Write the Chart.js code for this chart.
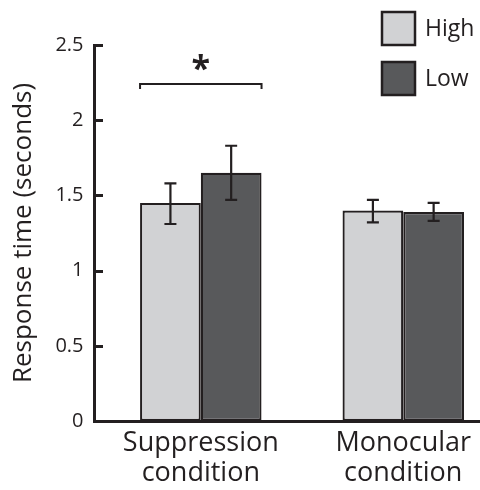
<!DOCTYPE html>
<html>
<head>
<meta charset="utf-8">
<script src="https://cdn.jsdelivr.net/npm/chart.js@4/dist/chart.umd.min.js"></script>
<style>
  html, body { margin: 0; padding: 0; background: #ffffff; }
  canvas { display: block; }
</style>
</head>
<body>
<canvas id="c" width="480" height="490"></canvas>
<script>
// ---- data ----
const categories = [['Suppression', 'condition'], ['Monocular', 'condition']];
const seriesNames = ['High', 'Low'];
const highValues = [1.45, 1.40];
const lowValues  = [1.65, 1.39];
const highErrLower = [1.31, 1.32];
const highErrUpper = [1.58, 1.47];
const lowErrLower  = [1.47, 1.33];
const lowErrUpper  = [1.83, 1.45];
const yTickValues = [0, 0.5, 1, 1.5, 2, 2.5];
const sigBracketValue = 2.24;   // y value of significance bracket
const sigStarValue = 2.40;      // y value of significance star
const sigLabel = '*';

// ---- styles ----
const INK = '#231f20';
const FONT = "'Open Sans', 'Noto Sans', sans-serif";
const colors = ['#d1d2d4', '#58595b'];

const errLower = [highErrLower, lowErrLower];
const errUpper = [highErrUpper, lowErrUpper];

const annotationPlugin = {
  id: 'annotations',
  afterDatasetsDraw(chart) {
    const ctx = chart.ctx;
    const y = chart.scales.y;
    const area = chart.chartArea;
    ctx.save();
    // inner tick marks on y axis
    ctx.strokeStyle = INK;
    ctx.lineWidth = 3;
    y.ticks.forEach(t => {
      const py = Math.round(y.getPixelForValue(t.value)) + 0.5;
      ctx.beginPath();
      ctx.moveTo(area.left, py);
      ctx.lineTo(area.left + 8.5, py);
      ctx.stroke();
    });
    // error bars
    ctx.lineWidth = 2.2;
    chart.data.datasets.forEach((ds, i) => {
      const meta = chart.getDatasetMeta(i);
      meta.data.forEach((bar, j) => {
        const x = bar.x;
        const yl = y.getPixelForValue(errLower[i][j]);
        const yu = y.getPixelForValue(errUpper[i][j]);
        const cap = 6;
        ctx.beginPath();
        ctx.moveTo(x, yl); ctx.lineTo(x, yu);
        ctx.moveTo(x - cap, yl); ctx.lineTo(x + cap, yl);
        ctx.moveTo(x - cap, yu); ctx.lineTo(x + cap, yu);
        ctx.stroke();
      });
    });
    // significance bracket over first category
    ctx.lineWidth = 2;
    const b0 = chart.getDatasetMeta(0).data[0];
    const b1 = chart.getDatasetMeta(1).data[0];
    const x1 = b0.x - b0.width / 2;
    const x2 = b1.x + b1.width / 2;
    const by = y.getPixelForValue(sigBracketValue);
    ctx.beginPath();
    ctx.moveTo(x1, by + 5);
    ctx.lineTo(x1, by);
    ctx.lineTo(x2, by);
    ctx.lineTo(x2, by + 5);
    ctx.stroke();
    ctx.fillStyle = INK;
    ctx.font = "bold 34px " + FONT;
    ctx.textAlign = 'center';
    ctx.textBaseline = 'alphabetic';
    const sy = y.getPixelForValue(sigStarValue);
    ctx.fillText(sigLabel, (x1 + x2) / 2, sy + 0.58 * 34);
    ctx.restore();
  },
  afterDraw(chart) {
    // legend (top right)
    const ctx = chart.ctx;
    ctx.save();
    const boxX = 382, boxY0 = 12, box = 33, gap = 50;
    chart.data.datasets.forEach((ds, i) => {
      const by = boxY0 + i * gap;
      ctx.fillStyle = ds.backgroundColor;
      ctx.fillRect(boxX, by, box, box);
      ctx.strokeStyle = INK;
      ctx.lineWidth = 2.5;
      ctx.strokeRect(boxX, by, box, box);
      ctx.fillStyle = INK;
      ctx.font = "23px " + FONT;
      ctx.textAlign = 'left';
      ctx.textBaseline = 'middle';
      ctx.fillText(ds.label, boxX + box + 10, by + box / 2 + 1);
    });
    ctx.restore();
  }
};

new Chart(document.getElementById('c'), {
  type: 'bar',
  data: {
    datasets: seriesNames.map((name, i) => ({
      label: name,
      data: (i === 0 ? highValues : lowValues).map((v, k) => ({ x: k, y: v })),
      backgroundColor: colors[i],
      borderColor: INK,
      borderWidth: 2.2,
      borderSkipped: false,
      categoryPercentage: 0.6,
      barPercentage: 1.0
    }))
  },
  options: {
    responsive: false,
    animation: false,
    devicePixelRatio: 1,
    layout: { padding: { top: 45, right: 0, left: 0, bottom: 0 } },
    plugins: { legend: { display: false }, tooltip: { enabled: false } },
    scales: {
      x: {
        type: 'linear',
        offset: false,
        min: -0.525,
        max: 1.379,
        grid: { display: false, drawTicks: false },
        border: { display: true, color: INK, width: 3 },
        afterBuildTicks: s => { s.ticks = categories.map((c, k) => ({ value: k })); },
        afterFit: s => { s.height = 69; },
        ticks: {
          autoSkip: false,
          maxRotation: 0,
          minRotation: 0,
          padding: 7,
          color: INK,
          font: { family: FONT, size: 27, lineHeight: 1.12 },
          callback: (v, idx) => categories[idx]
        }
      },
      y: {
        min: 0,
        max: 2.5,
        grid: { display: false, drawTicks: false },
        border: { display: true, color: INK, width: 3 },
        afterBuildTicks: s => { s.ticks = yTickValues.map(v => ({ value: v })); },
        afterFit: s => { s.width = 94.5; },
        ticks: {
          padding: 11,
          color: INK,
          font: { family: FONT, size: 20 },
          callback: v => String(v)
        },
        title: {
          display: true,
          text: 'Response time (seconds)',
          color: INK,
          font: { family: FONT, size: 26 },
          padding: { top: 8, bottom: 0 }
        }
      }
    }
  },
  plugins: [annotationPlugin]
});
</script>
</body>
</html>
